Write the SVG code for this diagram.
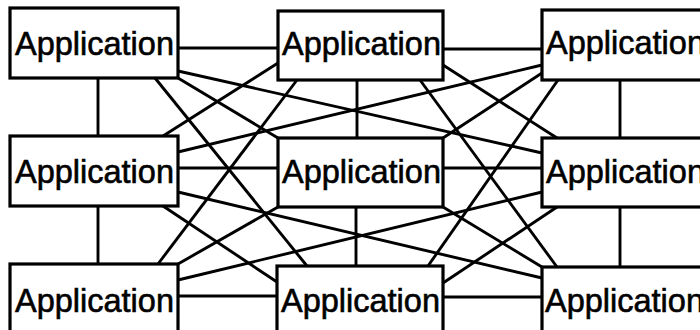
<svg xmlns="http://www.w3.org/2000/svg" width="700" height="330" viewBox="0 0 700 330">
<style>
.box{fill:#fff;stroke:#000;stroke-width:3.2}
.lbl{font-family:"Liberation Sans",Arial,Helvetica,sans-serif;font-size:32.5px;fill:#000;stroke:#000;stroke-width:0.6}
.c line{stroke:#000;stroke-width:2.9;stroke-linecap:butt}
</style>
<rect width="700" height="330" fill="#fff"/>
<g id="connectors" class="c">
<line x1="178" y1="48" x2="278" y2="48"/>
<line x1="443" y1="49" x2="542" y2="49"/>
<line x1="178" y1="168" x2="278" y2="168"/>
<line x1="443" y1="168" x2="542" y2="168"/>
<line x1="178" y1="296" x2="277" y2="296"/>
<line x1="443" y1="297" x2="542" y2="297"/>
<line x1="98" y1="78" x2="98" y2="136"/>
<line x1="98" y1="206" x2="98" y2="264"/>
<line x1="357" y1="80" x2="357" y2="138"/>
<line x1="356" y1="207" x2="356" y2="266"/>
<line x1="620" y1="80" x2="620" y2="138"/>
<line x1="620" y1="207" x2="620" y2="267"/>
<line x1="178" y1="71" x2="542" y2="153"/>
<line x1="178" y1="152" x2="542" y2="65"/>
<line x1="178" y1="192" x2="542" y2="278"/>
<line x1="178" y1="280" x2="542" y2="192"/>
<line x1="155" y1="78" x2="307" y2="266"/>
<line x1="297" y1="80" x2="158" y2="264"/>
<line x1="420" y1="80" x2="557" y2="267"/>
<line x1="558" y1="80" x2="428" y2="266"/>
<line x1="178" y1="78" x2="278" y2="138"/>
<line x1="278" y1="63" x2="163" y2="136"/>
<line x1="443" y1="65" x2="557" y2="138"/>
<line x1="542" y1="73" x2="443" y2="138"/>
<line x1="163" y1="206" x2="277" y2="282"/>
<line x1="178" y1="264" x2="278" y2="207"/>
<line x1="443" y1="207" x2="542" y2="267"/>
<line x1="443" y1="283" x2="557" y2="207"/>
</g>
<g id="node-tl"><rect class="box" x="10" y="8" width="168" height="70"/><text class="lbl" x="15" y="55">Application</text></g>
<g id="node-tc"><rect class="box" x="278" y="11" width="165" height="69"/><text class="lbl" x="282" y="55">Application</text></g>
<g id="node-tr"><rect class="box" x="542" y="10" width="170" height="70"/><text class="lbl" x="546" y="54">Application</text></g>
<g id="node-ml"><rect class="box" x="10" y="136" width="168" height="70"/><text class="lbl" x="15" y="183">Application</text></g>
<g id="node-mc"><rect class="box" x="278" y="138" width="165" height="69"/><text class="lbl" x="282" y="183">Application</text></g>
<g id="node-mr"><rect class="box" x="542" y="138" width="170" height="69"/><text class="lbl" x="546" y="183">Application</text></g>
<g id="node-bl"><rect class="box" x="10" y="264" width="168" height="80"/><text class="lbl" x="15" y="312">Application</text></g>
<g id="node-bc"><rect class="box" x="277" y="266" width="166" height="80"/><text class="lbl" x="281" y="312">Application</text></g>
<g id="node-br"><rect class="box" x="542" y="267" width="170" height="80"/><text class="lbl" x="545" y="312">Application</text></g>
</svg>
